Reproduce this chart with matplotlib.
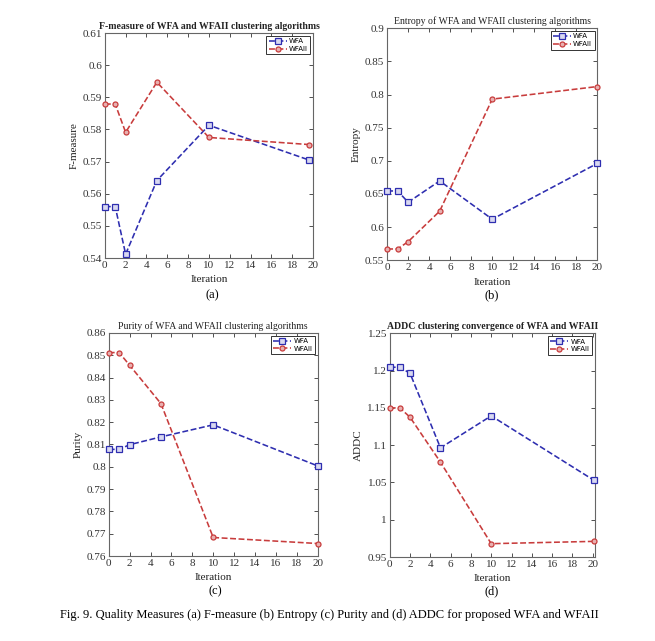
import numpy as np
import matplotlib.pyplot as plt

# iteration positions per panel
iters_a = [0, 1, 2, 5, 10, 19.6]
iters_b = [0, 1, 2, 5, 10, 20]
iters_c = [0, 1, 2, 5, 10, 20]
iters_d = [0, 1, 2, 5, 10, 20.1]

# (a) F-measure
fm_wfa = [0.556, 0.556, 0.5412, 0.5641, 0.5813, 0.5705]
fm_wfaii = [0.5879, 0.5879, 0.5791, 0.5947, 0.5775, 0.5753]

# (b) Entropy
ent_wfa = [0.6545, 0.6545, 0.6375, 0.6696, 0.6119, 0.6961]
ent_wfaii = [0.567, 0.567, 0.578, 0.624, 0.793, 0.812]

# (c) Purity
pur_wfa = [0.8078, 0.8078, 0.8099, 0.8134, 0.8188, 0.8004]
pur_wfaii = [0.8512, 0.8512, 0.8455, 0.8283, 0.7683, 0.7656]

# (d) ADDC
addc_wfa = [1.2045, 1.2045, 1.1964, 1.0964, 1.1393, 1.0531]
addc_wfaii = [1.15, 1.15, 1.1375, 1.0772, 0.9679, 0.971]

serif = 'Liberation Serif'
blue = '#2e2eb0'
red = '#c83c3c'

fig = plt.figure(figsize=(6.55, 6.41), dpi=100)


def panel(rect, x, y1, y2, ylim, yticks, yfmt, xlim, title, ylabel, tag, tag_xy, bold):
    ax = fig.add_axes(rect)
    ax.plot(x, y1, '--s', color=blue, lw=1.15, ms=4.2, mfc='#d8d8f0', mec=blue, mew=0.9,
            label='WFA', clip_on=False, zorder=3)
    ax.plot(x, y2, '--o', color=red, lw=1.15, ms=3.6, mfc='#e8b0b0', mec=red, mew=0.9,
            label='WFAII', clip_on=False, zorder=3)
    ax.set_xlim(*xlim)
    ax.set_ylim(*ylim)
    ax.set_xticks(np.arange(0, 21, 2))
    ax.set_yticks(yticks)
    ax.set_yticklabels([yfmt(v) for v in yticks])
    ax.tick_params(direction='in', top=True, right=True, length=3, width=0.6,
                   labelsize=8, colors='#333333', pad=2)
    for lab in ax.get_xticklabels() + ax.get_yticklabels():
        lab.set_fontfamily(serif)
    for s in ax.spines.values():
        s.set_color('#666666')
        s.set_linewidth(0.8)
    ax.set_title(title, fontfamily=serif, fontsize=7, pad=3,
                 fontweight='bold' if bold else 'normal', color='#222222')
    ax.set_xlabel('Iteration', fontfamily=serif, fontsize=8, labelpad=4, color='#222222')
    ax.set_ylabel(ylabel, fontfamily=serif, fontsize=8, labelpad=3, color='#222222')
    leg = ax.legend(loc='upper right', fontsize=5, handlelength=2.6, borderpad=0.35,
                    labelspacing=0.25, handletextpad=0.3, fancybox=False,
                    borderaxespad=0.4, framealpha=1)
    leg.get_frame().set_edgecolor('#333333')
    leg.get_frame().set_linewidth(0.7)
    fig.text(tag_xy[0], tag_xy[1], tag, fontfamily=serif, fontsize=9, ha='center', va='center')
    return ax


def fmt(v):
    return ('%.2f' % v).rstrip('0').rstrip('.')


panel([0.160, 0.5975, 0.318, 0.351], iters_a, fm_wfa, fm_wfaii, (0.54, 0.61),
      np.arange(0.54, 0.6101, 0.01), fmt, (0, 20),
      'F-measure of WFA and WFAII clustering algorithms', 'F-measure', '(a)',
      (212 / 655, 1 - 295 / 641), True)

panel([0.591, 0.594, 0.321, 0.362], iters_b, ent_wfa, ent_wfaii, (0.55, 0.9),
      np.arange(0.55, 0.901, 0.05), fmt, (0, 20),
      'Entropy of WFA and WFAII clustering algorithms', 'Entropy', '(b)',
      (492 / 655, 1 - 295 / 641), False)

panel([0.166, 0.1326, 0.319, 0.348], iters_c, pur_wfa, pur_wfaii, (0.76, 0.86),
      np.arange(0.76, 0.8601, 0.01), fmt, (0, 20),
      'Purity of WFA and WFAII clustering algorithms', 'Purity', '(c)',
      (215 / 655, 1 - 591 / 641), False)

panel([0.595, 0.131, 0.313, 0.349], iters_d, addc_wfa, addc_wfaii, (0.95, 1.25),
      np.arange(0.95, 1.2501, 0.05), fmt, (0, 20.2),
      'ADDC clustering convergence of WFA and WFAII', 'ADDC', '(d)',
      (492 / 655, 1 - 591 / 641), True)

fig.text(0.503, 1 - 615 / 641,
         'Fig. 9. Quality Measures (a) F-measure (b) Entropy (c) Purity and (d) ADDC for proposed WFA and WFAII',
         fontfamily=serif, fontsize=9, ha='center', va='center')

fig.savefig('out.png', dpi=100)
